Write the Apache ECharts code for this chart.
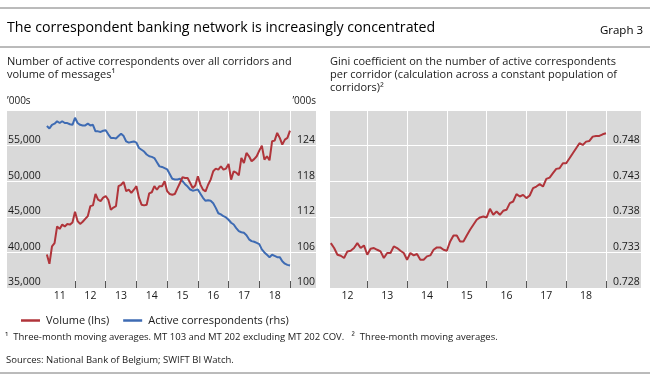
<!DOCTYPE html>
<html><head><meta charset="utf-8">
<script src="https://cdn.jsdelivr.net/npm/echarts@6/dist/echarts.min.js"></script>
<style>html,body{margin:0;padding:0;background:#fff}#c{width:650px;height:380px}</style>
</head><body><div id="c"></div>
<script>
// ---- data ----
const volumeStart = [2011, 2]; // first monthly observation (year, month)
const volume = [39700,38400,40850,41300,43650,43300,43900,43650,44000,43900,44200,45700,
  44400,44000,44300,44700,45100,46500,46600,48200,47400,47200,47700,47900,
  47400,46000,46300,46500,49300,49500,49900,48600,48800,48350,48800,49300,
  47650,46700,46600,46700,48300,48450,49300,48800,49300,49300,50000,48600,
  48200,48100,48200,49000,49750,50550,50450,50450,49750,49050,49400,50700,
  49520,48820,48580,49500,50220,51390,51770,51630,52100,51630,51770,52420,
  50220,51390,51200,50830,53270,52560,53970,53500,52800,53100,53500,54300,
  55000,53030,53500,52940,55600,55700,56780,56080,55140,55840,56080,57100];
const correspondents = [127.3,126.9,127.5,127.7,128.1,127.8,128.1,127.8,127.8,127.6,127.5,128.7,
  127.8,127.5,127.4,127.4,127.7,127.4,127.5,126.4,126.4,126.3,126.5,126.6,
  125.9,125.3,125.3,125.2,125.6,126.0,125.6,124.7,124.5,124.6,124.7,124.5,
  123.6,123.3,123.0,122.5,122.2,122.1,121.9,121.2,120.5,120.4,120.2,120.0,
  119.2,118.4,118.3,118.3,118.4,118.0,117.5,117.1,116.6,116.4,116.5,116.6,
  115.9,115.2,114.7,114.8,114.7,114.3,113.5,112.6,112.4,112.1,111.9,111.5,
  111.0,110.7,110.1,109.6,109.4,109.3,108.9,108.2,107.9,107.8,107.6,107.4,
  106.5,106.0,105.6,105.2,105.6,105.4,105.2,105.2,104.5,104.1,103.9,103.8];
const giniStart = [2012, 2];
const gini = [0.73431,0.73361,0.73267,0.73253,0.73221,0.73314,0.73323,0.73361,0.73431,0.73361,0.73398,0.73267,
  0.73351,0.73361,0.73337,0.73314,0.73221,0.73291,0.73291,0.73384,0.73361,0.73323,0.73291,0.73197,
  0.73291,0.73258,0.73277,0.73197,0.73197,0.73244,0.73258,0.73337,0.73370,0.73370,0.73337,0.73323,
  0.73454,0.73538,0.73538,0.73454,0.73454,0.73538,0.73618,0.73688,0.73758,0.73791,0.73805,0.73791,
  0.73912,0.73828,0.73875,0.73828,0.73884,0.73898,0.73992,0.74015,0.74118,0.74085,0.74108,0.74062,
  0.74099,0.74202,0.74225,0.74258,0.74225,0.74333,0.74351,0.74412,0.74473,0.74482,0.74552,0.74552,
  0.74622,0.74693,0.74763,0.74833,0.74809,0.74856,0.74865,0.74926,0.74936,0.74936,0.74959,0.74973];
const leftYearLabels = ['11','12','13','14','15','16','17','18'];
const rightYearLabels = ['12','13','14','15','16','17','18'];
const volumeTicks = [35000,40000,45000,50000,55000];
const corrTicks = [100,106,112,118,124];
const giniTicks = [0.728,0.733,0.738,0.743,0.748];
const giniGrid = [0.728,0.733,0.738,0.743,0.748,0.753];

// ---- helpers ----
function toXY(start, vals){ return vals.map((v,i)=>[start[0] + (start[1]-1+i)/12, v]); }
const yr = s => 2000 + parseInt(s,10);
const leftLabelPos = leftYearLabels.map(s=>yr(s)+0.5);
const leftTickPos = leftYearLabels.map(s=>yr(s)+1).filter(v=>v>=2012);
const rightLabelPos = rightYearLabels.map(s=>yr(s)+0.5);
const rightTickPos = rightYearLabels.map(s=>yr(s)+1);

const FONT = '"Open Sans", "Noto Sans", sans-serif';
const TXT = '#1a1a1a';
const RED = '#b0343a';
const BLUE = '#3e6bb3';
const GRAY = '#d9d9d9';

const chart = echarts.init(document.getElementById('c'), null, {renderer:'canvas'});
const xCommon = (gi, min, max, ticks, labels) => ({
  type:'value', gridIndex:gi, min, max,
  axisLine:{show:false},
  axisTick:{show:true, inside:true, length:7, customValues:ticks, lineStyle:{color:'#555', width:1}},
  splitLine:{show:true, lineStyle:{color:'#fff', width:1}},
  axisLabel:{customValues:labels, margin:3, fontFamily:FONT, fontSize:10.5, color:TXT,
    formatter:v=>String(Math.floor(v)%100)}
});

chart.setOption({
  animation:false,
  textStyle:{fontFamily:FONT},
  grid:[
    {left:7, top:110, width:309, height:178, show:true, backgroundColor:GRAY, borderWidth:0},
    {left:330, top:110, width:311, height:178, show:true, backgroundColor:GRAY, borderWidth:0}
  ],
  xAxis:[
    xCommon(0, 2009.785, 2019.847, leftTickPos, leftLabelPos),
    xCommon(1, 2012.063, 2019.88, rightTickPos, rightLabelPos)
  ],
  yAxis:[
    {type:'value', gridIndex:0, position:'left', min:35000, max:60000, interval:5000,
     name:'\u2019000s', nameLocation:'end', nameGap:4,
     nameTextStyle:{align:'left', fontSize:10, color:TXT, fontFamily:FONT},
     axisLine:{show:false}, axisTick:{show:false},
     splitLine:{show:true, lineStyle:{color:'#fff', width:1}},
     axisLabel:{customValues:volumeTicks, inside:true, align:'left', verticalAlign:'bottom', margin:1,
       fontFamily:FONT, fontSize:10.5, color:TXT, formatter:v=>v.toLocaleString('en-US')}},
    {type:'value', gridIndex:0, position:'right', min:100, max:130,
     name:'\u2019000s', nameLocation:'end', nameGap:4,
     nameTextStyle:{align:'right', fontSize:10, color:TXT, fontFamily:FONT},
     axisLine:{show:false}, axisTick:{show:false}, splitLine:{show:false},
     axisLabel:{customValues:corrTicks, inside:true, align:'left', verticalAlign:'bottom', margin:19,
       fontFamily:FONT, fontSize:10.5, color:TXT}},
    {type:'value', gridIndex:1, position:'right', min:0.728, max:0.753,
     axisLine:{show:false},
     axisTick:{show:true, length:0, customValues:giniGrid, lineStyle:{color:'rgba(0,0,0,0)'}},
     splitLine:{show:true, lineStyle:{color:'#fff', width:1}},
     axisLabel:{customValues:giniTicks, inside:true, align:'left', verticalAlign:'bottom', margin:28,
       fontFamily:FONT, fontSize:10.5, color:TXT, formatter:v=>v.toFixed(3)}}
  ],
  legend:{
    left:16, top:310, icon:'rect', itemWidth:19, itemHeight:2.5, itemGap:14,
    textStyle:{fontFamily:FONT, fontSize:11, color:TXT, padding:[0,0,0,1]},
    data:['Volume (lhs)','Active correspondents (rhs)']
  },
  series:[
    {name:'Volume (lhs)', type:'line', xAxisIndex:0, yAxisIndex:0, data:toXY(volumeStart, volume),
     showSymbol:false, lineStyle:{color:RED, width:2}, itemStyle:{color:RED}, z:3},
    {name:'Active correspondents (rhs)', type:'line', xAxisIndex:0, yAxisIndex:1, data:toXY(volumeStart, correspondents),
     showSymbol:false, lineStyle:{color:BLUE, width:2}, itemStyle:{color:BLUE}, z:2},
    {name:'Gini', type:'line', xAxisIndex:1, yAxisIndex:2, data:toXY(giniStart, gini),
     showSymbol:false, lineStyle:{color:RED, width:2}, itemStyle:{color:RED}}
  ],
  graphic:[
    {type:'line', shape:{x1:0,y1:8,x2:650,y2:8}, style:{stroke:'#777', lineWidth:1}},
    {type:'text', left:7, top:21, style:{text:'The correspondent banking network is increasingly concentrated', font:'14.2px '+FONT, fill:'#000'}},
    {type:'text', right:7, top:25, style:{text:'Graph 3', font:'11.5px '+FONT, fill:'#000'}},
    {type:'line', shape:{x1:0,y1:47,x2:650,y2:47}, style:{stroke:'#777', lineWidth:1}},
    {type:'text', left:7, top:55, style:{text:'Number of active correspondents over all corridors and\nvolume of messages\u00b9', font:'11px '+FONT, fill:TXT, lineHeight:13}},
    {type:'text', left:330, top:55, style:{text:'Gini coefficient on the number of active correspondents\nper corridor (calculation across a constant population of\ncorridors)\u00b2', font:'11px '+FONT, fill:TXT, lineHeight:13}},
    {type:'text', left:5, top:332, style:{text:'\u00b9  Three-month moving averages. MT 103 and MT 202 excluding MT 202 COV.   \u00b2  Three-month moving averages.', font:'9.5px '+FONT, fill:TXT}},
    {type:'text', left:6, top:355, style:{text:'Sources: National Bank of Belgium; SWIFT BI Watch.', font:'9.5px '+FONT, fill:TXT}},
    {type:'line', shape:{x1:0,y1:373,x2:650,y2:373}, style:{stroke:'#777', lineWidth:1}}
  ]
});
</script></body></html>
